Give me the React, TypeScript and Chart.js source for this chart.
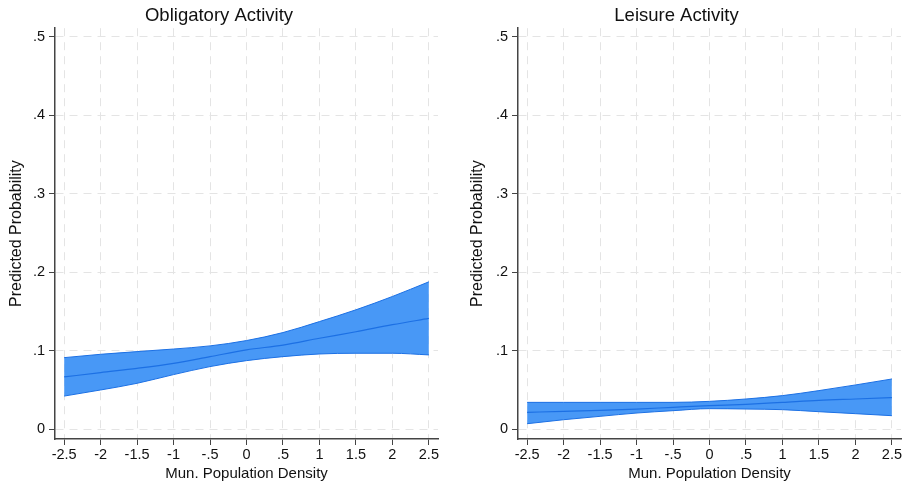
import React, { useEffect, useRef } from "react";
import { Chart, registerables } from "chart.js";

Chart.register(...registerables);

const xValues = [-2.5, -2, -1.5, -1, -0.5, 0, 0.5, 1, 1.5, 2, 2.5];
const xTickLabels = ["-2.5", "-2", "-1.5", "-1", "-.5", "0", ".5", "1", "1.5", "2", "2.5"];
const yTickValues = [0, 0.1, 0.2, 0.3, 0.4, 0.5];
const yTickLabels = ["0", ".1", ".2", ".3", ".4", ".5"];

const obligatoryUpper = [0.091, 0.0953, 0.0987, 0.102, 0.106, 0.1128, 0.123, 0.137, 0.152, 0.169, 0.1877];
const obligatoryMid = [0.0664, 0.072, 0.0774, 0.0838, 0.0923, 0.1009, 0.107, 0.1157, 0.124, 0.133, 0.141];
const obligatoryLower = [0.042, 0.0498, 0.0583, 0.0694, 0.0796, 0.0872, 0.0923, 0.0957, 0.0966, 0.0966, 0.0945];

const leisureUpper = [0.034, 0.034, 0.034, 0.034, 0.034, 0.0353, 0.0383, 0.0426, 0.049, 0.0562, 0.0638];
const leisureMid = [0.0213, 0.0225, 0.0238, 0.0255, 0.0277, 0.0298, 0.0315, 0.034, 0.0366, 0.0383, 0.04];
const leisureLower = [0.0068, 0.0119, 0.0162, 0.0204, 0.0234, 0.026, 0.0255, 0.0247, 0.0221, 0.0196, 0.017];

const FONT = "'Liberation Sans', Arial, Helvetica, sans-serif";
const FILL = "rgb(72,152,246)";
const LINE = "rgb(28,112,228)";
const GRID = "#e4e4e4";
const AXIS = "#444444";

type PanelProps = {
  title: string;
  upper: number[];
  mid: number[];
  lower: number[];
  width: number;
  height: number;
  yAxisWidth: number;
  padLeft: number;
  padRight: number;
  yTitlePad: number;
};

function Panel(props: PanelProps) {
  const ref = useRef<HTMLCanvasElement | null>(null);
  useEffect(() => {
    if (!ref.current) return;
    const mk = (arr: number[]) => xValues.map((x, i) => ({ x, y: arr[i] }));
    const chart = new Chart(ref.current, {
      type: "line",
      data: {
        datasets: [
          {
            data: mk(props.upper),
            borderColor: LINE,
            borderWidth: 1,
            backgroundColor: FILL,
            fill: "+1",
            pointRadius: 0,
            order: 3,
            cubicInterpolationMode: "monotone",
          },
          {
            data: mk(props.lower),
            borderColor: LINE,
            borderWidth: 1,
            backgroundColor: FILL,
            fill: false,
            pointRadius: 0,
            order: 2,
            cubicInterpolationMode: "monotone",
          },
          {
            data: mk(props.mid),
            borderColor: LINE,
            borderWidth: 1.2,
            fill: false,
            pointRadius: 0,
            order: 1,
            cubicInterpolationMode: "monotone",
          },
        ],
      },
      options: {
        animation: false,
        responsive: false,
        devicePixelRatio: 1,
        layout: { padding: { left: props.padLeft, right: props.padRight, top: 0, bottom: 0 } },
        plugins: {
          legend: { display: false },
          tooltip: { enabled: false },
          title: {
            display: true,
            text: props.title,
            color: "#111",
            font: { family: FONT, size: 18.5, weight: "normal" },
            padding: { top: 5, bottom: 1 },
          },
        },
        scales: {
          x: {
            type: "linear",
            min: -2.625,
            max: 2.625,
            afterBuildTicks: (axis: any) => {
              axis.ticks = xValues.map((v) => ({ value: v }));
            },
            afterFit: (axis: any) => {
              axis.height = 48;
            },
            ticks: {
              autoSkip: false,
              maxRotation: 0,
              padding: 1,
              color: "#111",
              font: { family: FONT, size: 14.5 },
              callback: (_v: any, i: number) => xTickLabels[i],
            },
            grid: {
              color: GRID,
              tickColor: AXIS,
              tickLength: 6,
              tickWidth: 1,
              tickBorderDash: [],
            },
            border: { display: true, color: AXIS, width: 1.5, dash: [8, 6] },
            title: {
              display: true,
              text: "Mun. Population Density",
              color: "#111",
              font: { family: FONT, size: 15 },
              padding: { top: 0, bottom: 4 },
            },
          },
          y: {
            type: "linear",
            min: -0.0127,
            max: 0.511,
            afterBuildTicks: (axis: any) => {
              axis.ticks = yTickValues.map((v) => ({ value: v }));
            },
            afterFit: (axis: any) => {
              axis.width = props.yAxisWidth;
            },
            ticks: {
              autoSkip: false,
              padding: 4,
              color: "#111",
              font: { family: FONT, size: 14.5 },
              callback: (_v: any, i: number) => yTickLabels[i],
            },
            grid: {
              color: GRID,
              tickColor: AXIS,
              tickLength: 6,
              tickWidth: 1,
              tickBorderDash: [],
            },
            border: { display: true, color: AXIS, width: 1.5, dash: [8, 6] },
            title: {
              display: true,
              text: "Predicted Probability",
              color: "#111",
              font: { family: FONT, size: 16 },
              padding: { top: props.yTitlePad, bottom: 0 },
            },
          },
        },
      },
    } as any);
    return () => chart.destroy();
  }, []);
  return <canvas ref={ref} width={props.width} height={props.height} style={{ display: "block", width: props.width, height: props.height }} />;
}

export default function App() {
  return (
    <div style={{ position: "absolute", left: 0, top: 0, width: 903, height: 487, background: "#fff", display: "flex" }}>
      <Panel
        title="Obligatory Activity"
        upper={obligatoryUpper}
        mid={obligatoryMid}
        lower={obligatoryLower}
        width={451}
        height={487}
        yAxisWidth={55}
        padLeft={0}
        padRight={13}
        yTitlePad={7.4}
      />
      <Panel
        title="Leisure Activity"
        upper={leisureUpper}
        mid={leisureMid}
        lower={leisureLower}
        width={452}
        height={487}
        yAxisWidth={67}
        padLeft={0}
        padRight={1}
        yTitlePad={17.4}
      />
    </div>
  );
}
